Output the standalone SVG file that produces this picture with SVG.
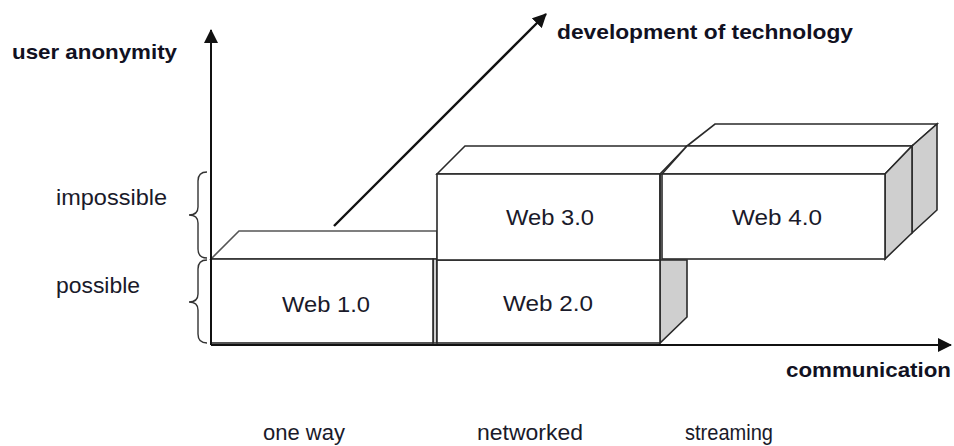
<svg xmlns="http://www.w3.org/2000/svg" width="954" height="446" viewBox="0 0 954 446">
<defs>
<style>
.face{fill:#ffffff;stroke:#2a2a2a;stroke-width:1.6;stroke-linejoin:miter}
.side{fill:#cfcfcf;stroke:#2a2a2a;stroke-width:1.6}
.top{fill:#ffffff;stroke:#555555;stroke-width:1.6}
.axis{fill:none;stroke:#111111;stroke-width:2}
.brace{fill:none;stroke:#333333;stroke-width:1.4}
.lbl{font-family:"Liberation Sans",Arial,sans-serif;font-size:22px;fill:#1a1a2a}
.bold{font-family:"Liberation Sans",Arial,sans-serif;font-size:21px;font-weight:bold;fill:#111122}
.web{font-family:"Liberation Sans",Arial,sans-serif;font-size:22px;fill:#1a1a2a;text-anchor:middle}
</style>
<marker id="arrL" markerWidth="14" markerHeight="14" refX="13" refY="7" orient="auto" markerUnits="userSpaceOnUse" viewBox="0 0 14 14">
<path d="M0,0 L14,7 L0,14 Z" fill="#111111"/>
</marker>
</defs>
<rect width="954" height="446" fill="#ffffff"/>

<g id="web1">
<polygon class="top" points="211,259 239,231 437,231 437,259"/>
<polygon class="side" points="433,259 437,259 437,343 433,343"/>
<rect class="face" x="211" y="259" width="222" height="84"/>
<text class="web" x="326" y="312" textLength="88" lengthAdjust="spacingAndGlyphs">Web 1.0</text>
</g>

<g id="web2">
<polygon class="side" points="660,260 687,260 687,317 660,343"/>
<rect class="face" x="437" y="260" width="223" height="83"/>
<text class="web" x="548" y="311" textLength="90" lengthAdjust="spacingAndGlyphs">Web 2.0</text>
</g>

<g id="web3">
<polygon class="top" points="437,174 465,146 687,146 660,174" style="stroke:#2a2a2a"/>
<rect class="face" x="437" y="174" width="223" height="86"/>
<line x1="660" y1="174" x2="660" y2="260" stroke="#2a2a2a" stroke-width="1.6"/>
<text class="web" x="550" y="225" textLength="88" lengthAdjust="spacingAndGlyphs">Web 3.0</text>
</g>

<g id="web4">
<polygon class="top" points="687,146 715,124 937,124 912,146" style="stroke:#2a2a2a"/>
<polygon class="side" points="912,146 937,124 937,210 912,233"/>
<polygon class="top" points="662,174 687,146 912,146 885,174" style="stroke:#2a2a2a"/>
<polygon class="side" points="885,174 912,146 912,233 885,259"/>
<rect class="face" x="662" y="174" width="223" height="85"/>
<text class="web" x="777" y="225" textLength="90" lengthAdjust="spacingAndGlyphs">Web 4.0</text>
</g>

<g id="connectors">
<line class="axis" x1="211" y1="345" x2="211" y2="30" marker-end="url(#arrL)"/>
<line class="axis" x1="211" y1="345" x2="951" y2="345" marker-end="url(#arrL)"/>
<line class="axis" x1="334" y1="226" x2="546" y2="14" marker-end="url(#arrL)" style="stroke-width:2.4"/>
</g>

<g id="braces">
<path class="brace" d="M207,172 Q198,172 198,181 L198,207 Q198,215 189,215 Q198,215 198,223 L198,249 Q198,258 207,258"/>
<path class="brace" d="M207,260 Q198,260 198,269 L198,294 Q198,302 189,302 Q198,302 198,310 L198,334 Q198,343 207,343"/>
</g>

<g id="labels">
<text class="bold" x="12" y="59" textLength="165" lengthAdjust="spacingAndGlyphs">user anonymity</text>
<text class="bold" x="557" y="39" textLength="296" lengthAdjust="spacingAndGlyphs">development of technology</text>
<text class="bold" x="786" y="377" textLength="165" lengthAdjust="spacingAndGlyphs">communication</text>
<text class="lbl" x="56" y="205" textLength="111" lengthAdjust="spacingAndGlyphs">impossible</text>
<text class="lbl" x="56" y="293" textLength="84" lengthAdjust="spacingAndGlyphs">possible</text>
<text class="lbl" x="263" y="440" textLength="82" lengthAdjust="spacingAndGlyphs">one way</text>
<text class="lbl" x="477" y="440" textLength="106" lengthAdjust="spacingAndGlyphs">networked</text>
<text class="lbl" x="685" y="440" textLength="88" lengthAdjust="spacingAndGlyphs">streaming</text>
</g>
</svg>
